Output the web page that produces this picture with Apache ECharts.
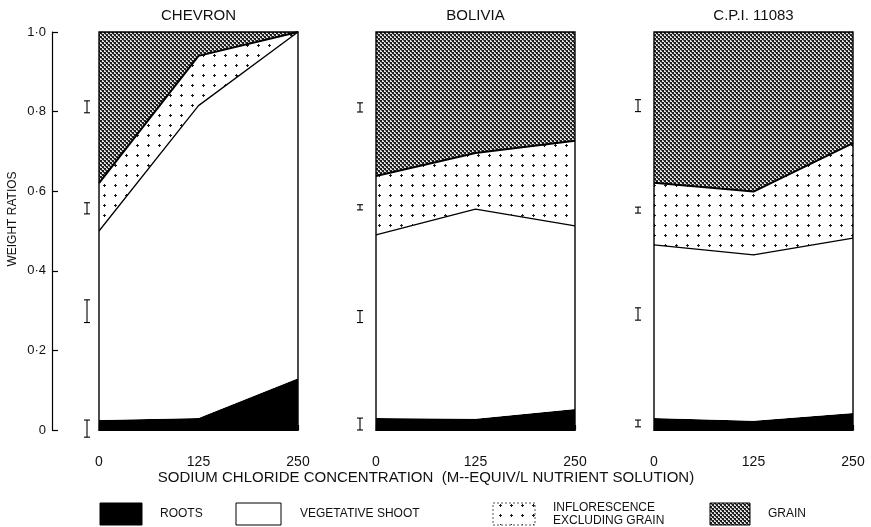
<!DOCTYPE html>
<html>
<head>
<meta charset="utf-8">
<script src="https://cdn.jsdelivr.net/npm/echarts@6/dist/echarts.min.js"></script>
<style>
html, body { margin: 0; padding: 0; background: #fff; }
#chart { width: 871px; height: 527px; }
</style>
</head>
<body>
<div id="chart"></div>
<script>
// NaCl concentration in the nutrient solution (m-equiv/l)
const concentrations = ['0', '125', '250'];
const yTickLabels = ['0', '0·2', '0·4', '0·6', '0·8', '1·0'];
const cultivars = ['CHEVRON', 'BOLIVIA', 'C.P.I. 11083'];

// Fraction of total dry weight in each plant part, one row per cultivar
const roots           = [[0.025, 0.030, 0.130], [0.030, 0.028, 0.053], [0.030, 0.023, 0.043]];
const vegetativeShoot = [[0.475, 0.785, 0.870], [0.460, 0.527, 0.460], [0.435, 0.417, 0.439]];
const inflorescence   = [[0.120, 0.125, 0.000], [0.148, 0.141, 0.214], [0.156, 0.159, 0.239]];
const grain           = [[0.380, 0.060, 0.000], [0.362, 0.304, 0.273], [0.379, 0.401, 0.279]];

// Least significant differences, drawn as [low, high] on the ratio scale
const errorBars = [
  [[0.797, 0.827], [0.543, 0.571], [0.270, 0.327], [-0.018, 0.025]],
  [[0.799, 0.822], [0.553, 0.566], [0.270, 0.300], [0.000, 0.030]],
  [[0.800, 0.830], [0.545, 0.560], [0.276, 0.307], [0.008, 0.025]]
];

const partNames = ['ROOTS', 'VEGETATIVE SHOOT', 'INFLORESCENCE\nEXCLUDING GRAIN', 'GRAIN'];

// ---- fill textures -------------------------------------------------------
function grainTile() {
  const c = document.createElement('canvas');
  c.width = 4; c.height = 4;
  const g = c.getContext('2d');
  g.fillStyle = '#e2e2e2';
  g.fillRect(0, 0, 4, 4);
  g.fillStyle = '#1e1e1e';
  g.fillRect(0, 0, 2, 2);
  g.fillRect(2, 2, 2, 2);
  g.fillStyle = '#5a5a5a';
  g.fillRect(3, 0, 1, 1);
  g.fillRect(1, 2, 1, 1);
  return c;
}
function plusTile() {
  const c = document.createElement('canvas');
  c.width = 11; c.height = 10;
  const g = c.getContext('2d');
  g.fillStyle = '#ffffff';
  g.fillRect(0, 0, 11, 10);
  g.fillStyle = '#1a1a1a';
  g.fillRect(4, 5, 3, 1);
  g.fillRect(5, 4, 1, 3);
  return c;
}
const grainFill = { image: grainTile(), repeat: 'repeat' };
const plusFill = { image: plusTile(), repeat: 'repeat' };

// ---- layout ---------------------------------------------------------------
const panelLeft = [99, 376, 654];
const panelWidth = 199;
const panelTop = 32;
const panelHeight = 398;
const barGap = [12, 16, 16];

const chart = echarts.init(document.getElementById('chart'), null, { renderer: 'canvas' });
const font = 'Liberation Sans, Arial, sans-serif';

const grids = [], xAxes = [], yAxes = [], series = [];
cultivars.forEach(function (name, i) {
  grids.push({
    left: panelLeft[i], top: panelTop, width: panelWidth, height: panelHeight,
    show: true, borderColor: '#000', borderWidth: 1.4, backgroundColor: 'transparent', z: 10
  });
  xAxes.push({
    gridIndex: i, type: 'category', data: concentrations, boundaryGap: false, offset: 20,
    axisLine: { show: true, lineStyle: { color: '#000', width: 1.2 } },
    axisTick: { show: true, inside: true, length: 5, lineStyle: { color: '#000', width: 1.2 } },
    axisLabel: { margin: 5, fontSize: 14, color: '#111', fontFamily: font },
    splitLine: { show: false }
  });
  const first = i === 0;
  yAxes.push({
    gridIndex: i, type: 'value', min: 0, max: 1, interval: 0.2,
    show: first, offset: 47,
    axisLine: { show: first, lineStyle: { color: '#000', width: 1.2 } },
    axisTick: { show: first, inside: true, length: 6, lineStyle: { color: '#000', width: 1.2 } },
    axisLabel: {
      show: first, margin: 6, fontSize: 13, color: '#111', fontFamily: font,
      formatter: function (v) { return yTickLabels[Math.round(v / 0.2)]; }
    },
    splitLine: { show: false }
  });

  const base = { type: 'line', xAxisIndex: i, yAxisIndex: i, stack: 'parts' + i, symbol: 'none', silent: true, animation: false };
  series.push(Object.assign({}, base, {
    name: partNames[0], data: roots[i], z: 2,
    lineStyle: { width: 0 }, areaStyle: { color: '#000', opacity: 1 }
  }));
  series.push(Object.assign({}, base, {
    name: partNames[1], data: vegetativeShoot[i], z: 4,
    lineStyle: { color: '#000', width: 1.3 }, areaStyle: { color: '#fff', opacity: 1 }
  }));
  series.push(Object.assign({}, base, {
    name: partNames[2], data: inflorescence[i], z: 3,
    lineStyle: { color: '#000', width: 2 }, areaStyle: { color: plusFill, opacity: 1 }
  }));
  series.push(Object.assign({}, base, {
    name: partNames[3], data: grain[i], z: 1,
    lineStyle: { width: 0 }, areaStyle: { color: grainFill, opacity: 1 }
  }));
  series.push({
    type: 'custom', xAxisIndex: i, yAxisIndex: i, clip: false, silent: true, animation: false, z: 5,
    data: errorBars[i].map(function (b) { return [0, b[0], b[1]]; }),
    encode: { x: 0, y: [1, 2] },
    renderItem: function (params, api) {
      const lo = api.coord([api.value(0), api.value(1)]);
      const hi = api.coord([api.value(0), api.value(2)]);
      const x = lo[0] - barGap[i];
      const w = 3;
      const st = { stroke: '#000', lineWidth: 1.1 };
      return {
        type: 'group', children: [
          { type: 'line', shape: { x1: x, y1: lo[1], x2: x, y2: hi[1] }, style: st },
          { type: 'line', shape: { x1: x - w, y1: lo[1], x2: x + w, y2: lo[1] }, style: st },
          { type: 'line', shape: { x1: x - w, y1: hi[1], x2: x + w, y2: hi[1] }, style: st }
        ]
      };
    }
  });
});

// ---- titles and key ---------------------------------------------------------
const graphics = [];
cultivars.forEach(function (name, i) {
  graphics.push({
    type: 'text', x: panelLeft[i] + panelWidth / 2, y: 16,
    style: { text: name, fontSize: 15, fontFamily: font, fill: '#111', align: 'center', verticalAlign: 'middle' }
  });
});
graphics.push({
  type: 'text', x: 13, y: 219, rotation: Math.PI / 2,
  style: { text: 'WEIGHT RATIOS', fontSize: 12, fontFamily: font, fill: '#111', align: 'center', verticalAlign: 'middle' }
});
graphics.push({
  type: 'text', x: 426, y: 478,
  style: { text: 'SODIUM CHLORIDE CONCENTRATION  (M--EQUIV/L NUTRIENT SOLUTION)', fontSize: 15, fontFamily: font, fill: '#111', align: 'center', verticalAlign: 'middle' }
});
const keyBoxes = [
  { x: 100, w: 42, fill: '#000', stroke: '#000', tx: 160 },
  { x: 236, w: 45, fill: '#fff', stroke: '#000', tx: 300 },
  { x: 493, w: 42, fill: plusFill, stroke: '#555', tx: 553, dash: [2, 2] },
  { x: 710, w: 40, fill: grainFill, stroke: '#000', tx: 768 }
];
keyBoxes.forEach(function (k, j) {
  graphics.push({
    type: 'rect', shape: { x: k.x, y: 503, width: k.w, height: 22 },
    style: { fill: k.fill, stroke: k.stroke, lineWidth: 1, lineDash: k.dash || null }
  });
  graphics.push({
    type: 'text', x: k.tx, y: 514,
    style: { text: partNames[j], fontSize: 12, lineHeight: 13, fontFamily: font, fill: '#111', align: 'left', verticalAlign: 'middle' }
  });
});

chart.setOption({
  animation: false,
  backgroundColor: '#fff',
  grid: grids,
  xAxis: xAxes,
  yAxis: yAxes,
  series: series,
  graphic: graphics
});
</script>
</body>
</html>
